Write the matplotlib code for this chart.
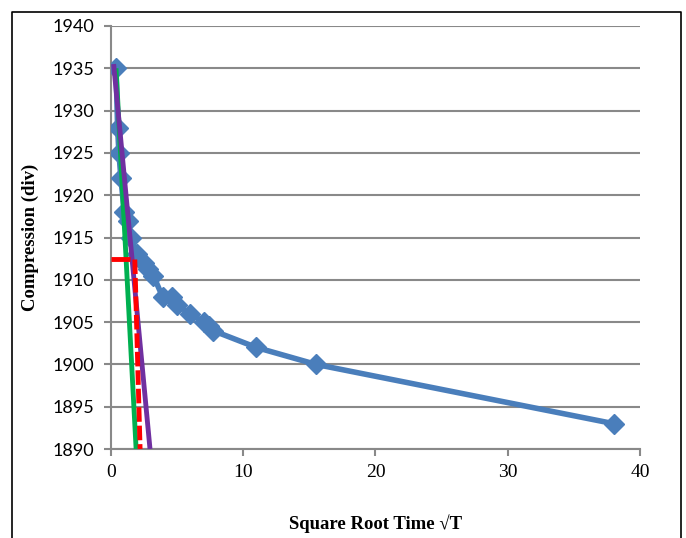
import matplotlib.pyplot as plt
from matplotlib.lines import Line2D

# Settlement readings against square root of time
sqrt_t = [0.38, 0.5, 0.6, 0.75, 1.0, 1.3, 1.5, 2.0, 2.5, 2.8, 3.2, 3.9, 4.6, 5.0, 6.0, 7.0, 7.4, 7.7, 11.0, 15.5, 38.0]
compression = [1935, 1928, 1925, 1922, 1918, 1917, 1915, 1913, 1912, 1911.3, 1910.5, 1908, 1908, 1907, 1906, 1905, 1904.5, 1904, 1902, 1900, 1893]

# Construction lines (Taylor's method)
green_x = [0.38, 1.9]
green_y = [1935, 1890]
purple_x = [0.2, 2.95]
purple_y = [1935.5, 1890]
red_h_x = [0.0, 1.4]
red_h_y = [1912.4, 1912.4]
red_d_x = [1.8, 2.2]
red_d_y = [1912.4, 1890]

fig = plt.figure(figsize=(6.86, 5.38), dpi=100)
ax = fig.add_axes([0.1618, 0.1654, 0.7711, 0.7863])

ax.plot(sqrt_t, compression, color='#4a7ebb', lw=4, marker='D', ms=10,
        markerfacecolor='#4a7ebb', markeredgecolor='#4a7ebb', zorder=3)
ax.plot(green_x, green_y, color='#00b050', lw=3.5, zorder=4, solid_capstyle='butt')
ax.plot(red_h_x, red_h_y, color='#ff0000', lw=3.5, zorder=5, solid_capstyle='butt')
ax.plot(red_d_x, red_d_y, color='#ff0000', lw=3.5, ls=(0, (3, 0.8)), zorder=5)
ax.plot(purple_x, purple_y, color='#7030a0', lw=3.5, zorder=4, solid_capstyle='butt')

ax.set_xlim(0, 40)
ax.set_ylim(1890, 1940)
ax.set_xticks(range(0, 41, 10))
ax.set_yticks(range(1890, 1941, 5))
ax.yaxis.grid(True, color='#898989', lw=1.5)
ax.set_axisbelow(True)

for s in ['top', 'right']:
    ax.spines[s].set_visible(False)
for s in ['left', 'bottom']:
    ax.spines[s].set_color('#898989')
    ax.spines[s].set_linewidth(1.5)

ax.tick_params(axis='y', length=5, width=1.5, color='#898989', labelsize=13, pad=7)
ax.tick_params(axis='x', length=5, width=1.5, color='#898989', labelsize=14, pad=6)
for lab in ax.get_yticklabels():
    lab.set_fontfamily('Lato')
for lab in ax.get_xticklabels():
    lab.set_fontfamily('Liberation Serif')

ax.set_xlabel('Square Root Time √T', fontsize=13.5, fontweight='bold',
              family='Liberation Serif', labelpad=24)
ax.set_ylabel('Compression (div)', fontsize=13.5, fontweight='bold',
              family='Liberation Serif', labelpad=10)

# Outer chart border, open at the bottom
W, H = 686, 538
fx = [12 / W, 12 / W, 681 / W, 681 / W]
fy = [0.0, 1 - 12 / H, 1 - 12 / H, 0.0]
fig.add_artist(Line2D(fx, fy, color='black', lw=1.2, transform=fig.transFigure))

plt.savefig('out.png', dpi=100)
